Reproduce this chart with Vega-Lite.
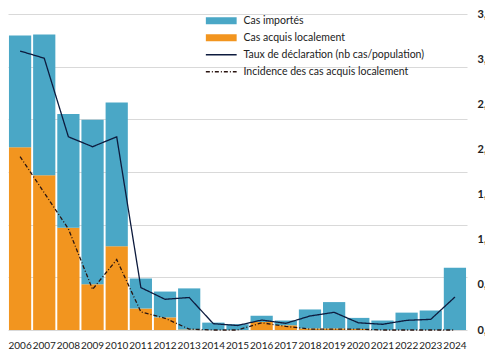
{
  "$schema": "https://vega.github.io/schema/vega-lite/v6.json",
  "autosize": {"type": "none"},
  "width": 459,
  "height": 316,
  "padding": {"left": 8, "top": 14, "right": 18, "bottom": 30},
  "background": "white",
  "config": {
    "view": {"stroke": null},
    "font": "Lato"
  },
  "datasets": {
    "bars": [
      {"year": "2006", "type": "Cas acquis localement", "value": 34.7},
      {"year": "2006", "type": "Cas importés", "value": 21.2},
      {"year": "2007", "type": "Cas acquis localement", "value": 29.4},
      {"year": "2007", "type": "Cas importés", "value": 26.7},
      {"year": "2008", "type": "Cas acquis localement", "value": 19.4},
      {"year": "2008", "type": "Cas importés", "value": 21.6},
      {"year": "2009", "type": "Cas acquis localement", "value": 8.7},
      {"year": "2009", "type": "Cas importés", "value": 31.2},
      {"year": "2010", "type": "Cas acquis localement", "value": 15.9},
      {"year": "2010", "type": "Cas importés", "value": 27.3},
      {"year": "2011", "type": "Cas acquis localement", "value": 4.1},
      {"year": "2011", "type": "Cas importés", "value": 5.7},
      {"year": "2012", "type": "Cas acquis localement", "value": 2.4},
      {"year": "2012", "type": "Cas importés", "value": 4.9},
      {"year": "2013", "type": "Cas acquis localement", "value": 0.1},
      {"year": "2013", "type": "Cas importés", "value": 7.8},
      {"year": "2014", "type": "Cas acquis localement", "value": 0},
      {"year": "2014", "type": "Cas importés", "value": 1.4},
      {"year": "2015", "type": "Cas acquis localement", "value": 0},
      {"year": "2015", "type": "Cas importés", "value": 1.1},
      {"year": "2016", "type": "Cas acquis localement", "value": 1.5},
      {"year": "2016", "type": "Cas importés", "value": 1.2},
      {"year": "2017", "type": "Cas acquis localement", "value": 0.9},
      {"year": "2017", "type": "Cas importés", "value": 0.9},
      {"year": "2018", "type": "Cas acquis localement", "value": 0.3},
      {"year": "2018", "type": "Cas importés", "value": 3.6},
      {"year": "2019", "type": "Cas acquis localement", "value": 0.3},
      {"year": "2019", "type": "Cas importés", "value": 5.0},
      {"year": "2020", "type": "Cas acquis localement", "value": 0.2},
      {"year": "2020", "type": "Cas importés", "value": 2.1},
      {"year": "2021", "type": "Cas acquis localement", "value": 0},
      {"year": "2021", "type": "Cas importés", "value": 1.8},
      {"year": "2022", "type": "Cas acquis localement", "value": 0},
      {"year": "2022", "type": "Cas importés", "value": 3.3},
      {"year": "2023", "type": "Cas acquis localement", "value": 0},
      {"year": "2023", "type": "Cas importés", "value": 3.7},
      {"year": "2024", "type": "Cas acquis localement", "value": 0},
      {"year": "2024", "type": "Cas importés", "value": 11.8}
    ],
    "lines": [
      {"year": "2006", "serie": "Taux de déclaration (nb cas/population)", "value": 3.09},
      {"year": "2007", "serie": "Taux de déclaration (nb cas/population)", "value": 3.01},
      {"year": "2008", "serie": "Taux de déclaration (nb cas/population)", "value": 2.14},
      {"year": "2009", "serie": "Taux de déclaration (nb cas/population)", "value": 2.03},
      {"year": "2010", "serie": "Taux de déclaration (nb cas/population)", "value": 2.14},
      {"year": "2011", "serie": "Taux de déclaration (nb cas/population)", "value": 0.47},
      {"year": "2012", "serie": "Taux de déclaration (nb cas/population)", "value": 0.34},
      {"year": "2013", "serie": "Taux de déclaration (nb cas/population)", "value": 0.36},
      {"year": "2014", "serie": "Taux de déclaration (nb cas/population)", "value": 0.07},
      {"year": "2015", "serie": "Taux de déclaration (nb cas/population)", "value": 0.05},
      {"year": "2016", "serie": "Taux de déclaration (nb cas/population)", "value": 0.11},
      {"year": "2017", "serie": "Taux de déclaration (nb cas/population)", "value": 0.074},
      {"year": "2018", "serie": "Taux de déclaration (nb cas/population)", "value": 0.155},
      {"year": "2019", "serie": "Taux de déclaration (nb cas/population)", "value": 0.196},
      {"year": "2020", "serie": "Taux de déclaration (nb cas/population)", "value": 0.08},
      {"year": "2021", "serie": "Taux de déclaration (nb cas/population)", "value": 0.063},
      {"year": "2022", "serie": "Taux de déclaration (nb cas/population)", "value": 0.107},
      {"year": "2023", "serie": "Taux de déclaration (nb cas/population)", "value": 0.118},
      {"year": "2024", "serie": "Taux de déclaration (nb cas/population)", "value": 0.365},
      {"year": "2006", "serie": "Incidence des cas acquis localement", "value": 1.92},
      {"year": "2007", "serie": "Incidence des cas acquis localement", "value": 1.52},
      {"year": "2008", "serie": "Incidence des cas acquis localement", "value": 1.12},
      {"year": "2009", "serie": "Incidence des cas acquis localement", "value": 0.45},
      {"year": "2010", "serie": "Incidence des cas acquis localement", "value": 0.78},
      {"year": "2011", "serie": "Incidence des cas acquis localement", "value": 0.2},
      {"year": "2012", "serie": "Incidence des cas acquis localement", "value": 0.13},
      {"year": "2013", "serie": "Incidence des cas acquis localement", "value": 0.01},
      {"year": "2014", "serie": "Incidence des cas acquis localement", "value": 0},
      {"year": "2015", "serie": "Incidence des cas acquis localement", "value": 0},
      {"year": "2016", "serie": "Incidence des cas acquis localement", "value": 0.08},
      {"year": "2017", "serie": "Incidence des cas acquis localement", "value": 0.04},
      {"year": "2018", "serie": "Incidence des cas acquis localement", "value": 0.01},
      {"year": "2019", "serie": "Incidence des cas acquis localement", "value": 0.01},
      {"year": "2020", "serie": "Incidence des cas acquis localement", "value": 0.01},
      {"year": "2021", "serie": "Incidence des cas acquis localement", "value": 0},
      {"year": "2022", "serie": "Incidence des cas acquis localement", "value": 0},
      {"year": "2023", "serie": "Incidence des cas acquis localement", "value": 0},
      {"year": "2024", "serie": "Incidence des cas acquis localement", "value": 0}
    ]
  },
  "encoding": {
    "x": {
      "field": "year",
      "type": "ordinal",
      "scale": {"paddingInner": 0.08, "paddingOuter": 0.04},
      "axis": {
        "title": null,
        "labelAngle": 0,
        "ticks": false,
        "domain": false,
        "labelPadding": 10,
        "labelFontSize": 10,
        "labelColor": "#222222",
        "labelFont": "Lato",
        "labelOverlap": false
      }
    }
  },
  "layer": [
    {
      "data": {"name": "bars"},
      "mark": {"type": "bar"},
      "encoding": {
        "y": {
          "field": "value",
          "type": "quantitative",
          "stack": "zero",
          "scale": {"domain": [0, 60], "nice": false},
          "axis": {
            "title": null,
            "values": [0, 10, 20, 30, 40, 50, 60],
            "labels": false,
            "ticks": false,
            "domain": false,
            "grid": true,
            "gridColor": "#d9d9d9",
            "gridWidth": 1
          }
        },
        "fill": {
          "field": "type",
          "type": "nominal",
          "scale": {
            "domain": ["Cas importés", "Cas acquis localement"],
            "range": ["#4AA7C6", "#F2951F"]
          },
          "legend": {
            "title": null,
            "orient": "none",
            "legendX": 208,
            "legendY": 1.5,
            "padding": 0,
            "symbolType": "M-4.4,-1H4.4V1H-4.4Z",
            "symbolSize": 49,
            "symbolStrokeWidth": 0,
            "labelFontSize": 10.5,
            "labelOffset": 17,
            "labelLimit": 300,
            "labelColor": "#222222",
            "rowPadding": 6,
            "labelFont": "Lato"
          }
        },
        "order": {"field": "type", "sort": "ascending"}
      }
    },
    {
      "data": {"name": "lines"},
      "mark": {"type": "line", "strokeWidth": 1.3},
      "encoding": {
        "y": {
          "field": "value",
          "type": "quantitative",
          "scale": {"domain": [0, 3.5], "nice": false},
          "axis": {
            "orient": "right",
            "title": null,
            "values": [0, 0.5, 1, 1.5, 2, 2.5, 3, 3.5],
            "labelExpr": "replace(format(datum.value, '.1f'), '.', ',')",
            "ticks": false,
            "domain": false,
            "grid": false,
            "labelPadding": 10,
            "labelFontSize": 11,
            "labelFontWeight": "bold",
            "labelColor": "#222222",
            "labelFont": "Lato"
          }
        },
        "stroke": {
          "field": "serie",
          "type": "nominal",
          "scale": {
            "domain": ["Taux de déclaration (nb cas/population)", "Incidence des cas acquis localement"],
            "range": ["#0d1b3e", "#2a1410"]
          },
          "legend": {
            "title": null,
            "orient": "none",
            "legendX": 208,
            "legendY": 35.5,
            "padding": 0,
            "symbolType": "M-4.4,0H4.4",
            "symbolSize": 49,
            "symbolStrokeWidth": 1.3,
            "labelFontSize": 10.5,
            "labelOffset": 17,
            "labelLimit": 300,
            "labelColor": "#222222",
            "rowPadding": 6,
            "labelFont": "Lato"
          }
        },
        "strokeDash": {
          "field": "serie",
          "type": "nominal",
          "scale": {
            "domain": ["Taux de déclaration (nb cas/population)", "Incidence des cas acquis localement"],
            "range": [[1, 0], [4, 2, 1, 2]]
          },
          "legend": {
            "title": null,
            "orient": "none",
            "legendX": 208,
            "legendY": 35.5,
            "padding": 0,
            "symbolType": "M-4.4,0H4.4",
            "symbolSize": 49,
            "symbolStrokeWidth": 1.3,
            "labelFontSize": 10.5,
            "labelOffset": 17,
            "labelLimit": 300,
            "labelColor": "#222222",
            "rowPadding": 6,
            "labelFont": "Lato"
          }
        }
      }
    }
  ],
  "resolve": {"scale": {"y": "independent"}}
}
